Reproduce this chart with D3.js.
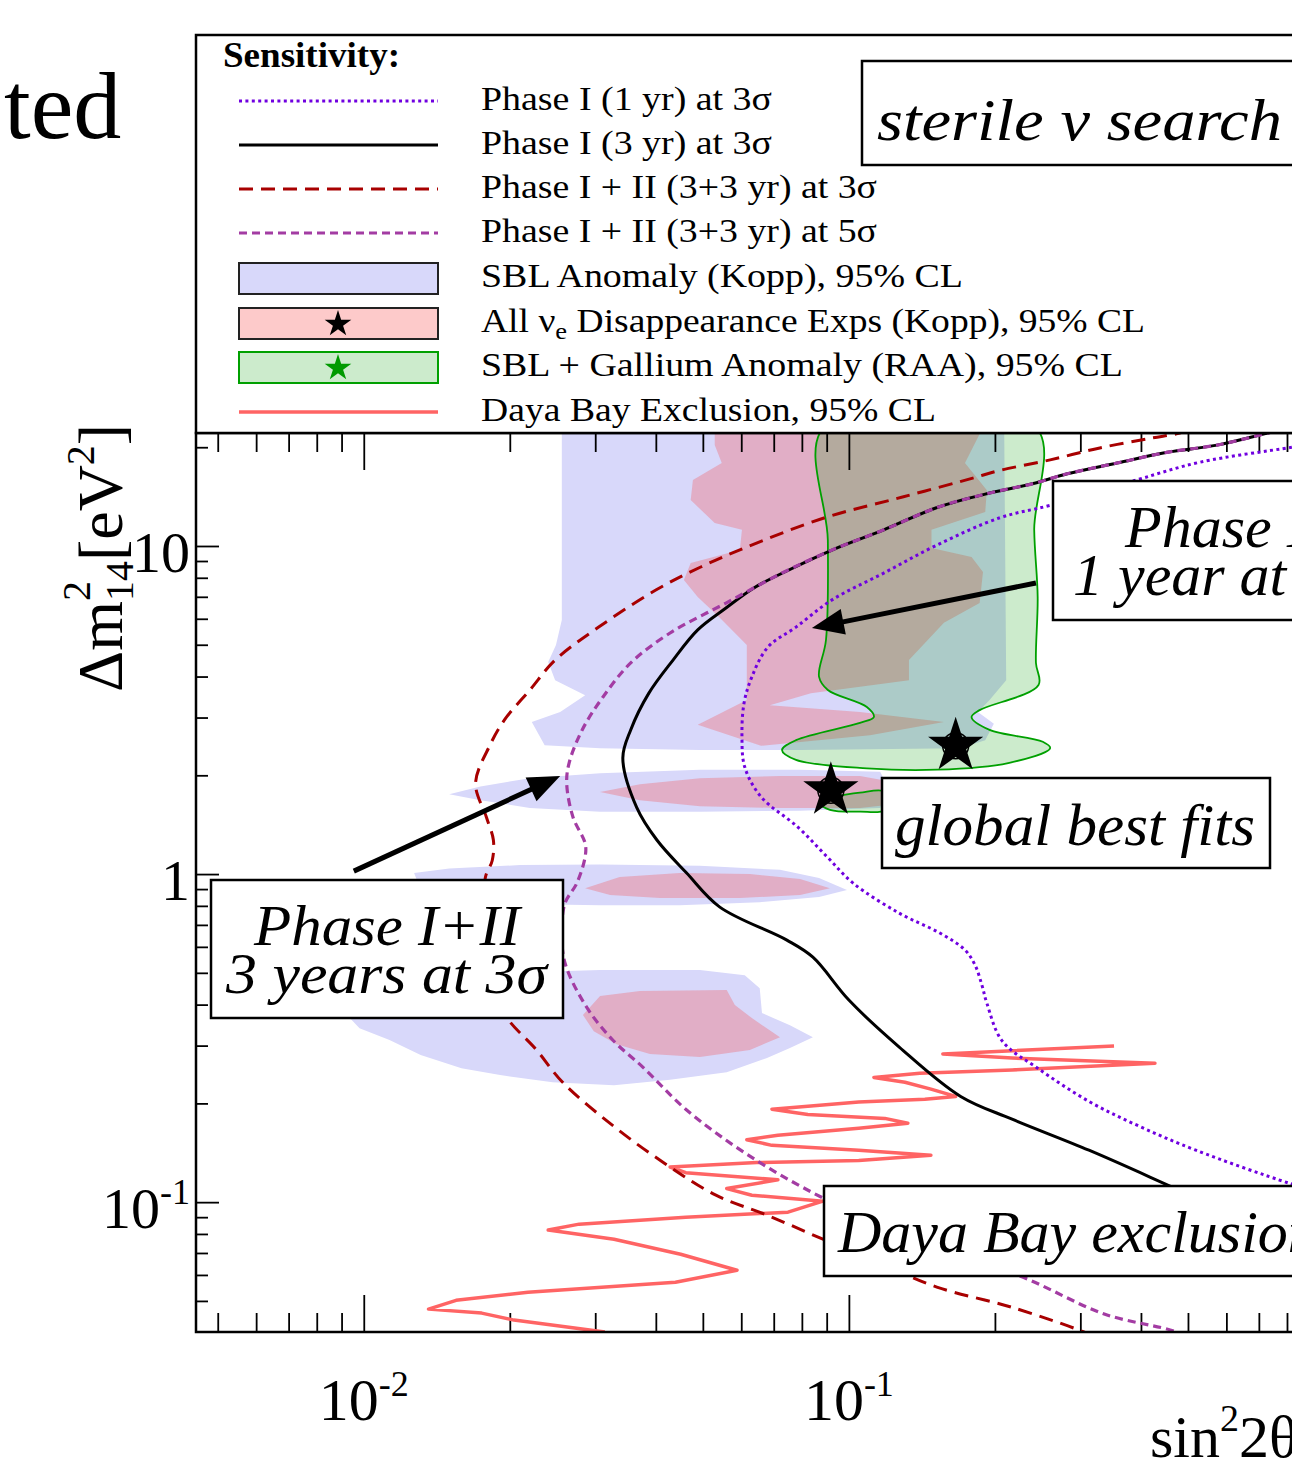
<!DOCTYPE html>
<html>
<head>
<meta charset="utf-8">
<script src="https://cdn.jsdelivr.net/npm/d3@7"></script>
<style>
  body { margin: 0; background: #fff; }
  svg { display: block; }
  text { font-family: "Liberation Serif", "Times New Roman", serif; fill: #000; }
</style>
</head>
<body>
<svg id="chart" width="1292" height="1460"></svg>
<script>
// ---------- axis ticks ----------
const xMajorTicks = [0.01, 0.1, 1];
const xMinorTicks = [0.005, 0.006, 0.007, 0.008, 0.009, 0.02, 0.03, 0.04, 0.05, 0.06, 0.07, 0.08, 0.09,
                     0.2, 0.3, 0.4, 0.5, 0.6, 0.7, 0.8, 0.9];
const yMajorTicks = [0.1, 1, 10];
const yMinorTicks = [0.05, 0.06, 0.07, 0.08, 0.09, 0.2, 0.3, 0.4, 0.5, 0.6, 0.7, 0.8, 0.9,
                     2, 3, 4, 5, 6, 7, 8, 9, 20];
const xTickLabels = [{ v: 0.01, base: "10", sup: "-2" }, { v: 0.1, base: "10", sup: "-1" }];
const yTickLabels = [{ v: 10, base: "10", sup: "" }, { v: 1, base: "1", sup: "" }, { v: 0.1, base: "10", sup: "-1" }];

// ---------- sensitivity curves [sin^2 2θ, Δm^2] ----------
const phaseI_1yr_3sigma = [[0.98,20.9],[0.819,20.0],[0.529,18.0],[0.392,15.9],[0.260,13.3],[0.205,12.2],
  [0.152,10.07],[0.118,8.27],[0.0923,6.85],[0.0778,5.66],[0.0681,4.92],[0.0631,3.99],[0.0608,3.32],
  [0.0602,2.62],[0.0610,2.12],[0.0659,1.72],[0.0785,1.39],[0.0901,1.13],[0.102,0.939],[0.127,0.760],
  [0.154,0.661],[0.1735,0.587],[0.182,0.528],[0.188,0.459],[0.1925,0.404],[0.207,0.310],[0.245,0.256],
  [0.314,0.202],[0.398,0.170],[0.519,0.144],[0.811,0.114],[0.98,0.105]];

const phaseI_3yr_3sigma = [[0.80,22.8],[0.731,22.1],[0.574,20.3],[0.453,19.3],[0.357,17.9],[0.282,16.6],
  [0.240,15.5],[0.195,14.5],[0.152,13.1],[0.118,11.2],[0.0923,9.72],[0.0752,8.45],[0.0637,7.45],
  [0.0558,6.47],[0.0488,5.55],[0.0434,4.49],[0.0387,3.56],[0.0355,2.75],[0.0342,2.26],[0.0365,1.60],
  [0.0402,1.27],[0.0463,1.007],[0.0542,0.793],[0.0745,0.629],[0.0843,0.558],[0.100,0.413],[0.127,0.297],
  [0.170,0.210],[0.217,0.179],[0.3125,0.144],[0.459,0.112],[0.811,0.0766]];

const phaseI_II_3sigma = [[0.50,22.6],[0.481,22.1],[0.418,21.3],[0.329,19.9],[0.260,18.3],[0.205,17.0],
  [0.180,16.1],[0.129,14.1],[0.0893,12.2],[0.0616,9.93],[0.0495,8.63],[0.0400,7.34],[0.0305,5.66],
  [0.0248,4.49],[0.0220,3.64],[0.0195,2.95],[0.0182,2.47],[0.0170,1.89],[0.0179,1.49],[0.0185,1.27],
  [0.0184,1.10],[0.0178,0.972],[0.0180,0.629],[0.0186,0.443],[0.0197,0.366],[0.0227,0.291],
  [0.0257,0.232],[0.0328,0.170],[0.0418,0.131],[0.0532,0.105],[0.0678,0.0913],[0.0884,0.0771],
  [0.116,0.0652],[0.1518,0.0551],[0.217,0.0478],[0.305,0.0402],[0.33,0.038]];

const phaseI_II_5sigma = [[0.80,22.8],[0.731,22.1],[0.574,20.3],[0.453,19.3],[0.357,17.9],[0.282,16.6],
  [0.240,15.5],[0.195,14.5],[0.152,13.1],[0.118,11.2],[0.0923,9.72],[0.0728,8.27],[0.0558,6.70],
  [0.0428,5.43],[0.0355,4.40],[0.0311,3.46],[0.0282,2.75],[0.0265,2.18],[0.0262,1.89],[0.0270,1.49],
  [0.0286,1.24],[0.0286,1.13],[0.0275,0.939],[0.0260,0.816],[0.0256,0.675],[0.0260,0.535],
  [0.0288,0.393],[0.0326,0.312],[0.0376,0.258],[0.0461,0.192],[0.0616,0.140],[0.0884,0.103],
  [0.147,0.0739],[0.228,0.0591],[0.336,0.0456],[0.472,0.0402],[0.50,0.038]];

const dayaBayExclusion = [[0.352,0.299],[0.1562,0.283],[0.217,0.275],[0.4275,0.265],[0.217,0.253],
  [0.140,0.247],[0.1126,0.240],[0.1305,0.232],[0.1476,0.221],[0.166,0.210],[0.1434,0.206],[0.1048,0.202],
  [0.0694,0.192],[0.0823,0.185],[0.1186,0.180],[0.1323,0.174],[0.1048,0.168],[0.0714,0.160],
  [0.0616,0.155],[0.0694,0.149],[0.1048,0.144],[0.1476,0.139],[0.1048,0.134],[0.0646,0.132],
  [0.0428,0.128],[0.0461,0.123],[0.0714,0.117],[0.0560,0.110],[0.0631,0.105],[0.0884,0.1007],
  [0.0749,0.0932],[0.0461,0.0900],[0.0278,0.0857],[0.0240,0.0822],[0.0328,0.0771],[0.0450,0.0694],
  [0.0588,0.0620],[0.0439,0.0570],[0.0218,0.0531],[0.0155,0.0502],[0.0136,0.0472],[0.0175,0.0459],
  [0.0204,0.0437],[0.0314,0.0402]];

// ---------- allowed regions ----------
const sblKopp = [
  [[0.0256,23],[0.209,23],[0.211,3.90],[0.195,3.39],[0.1845,3.12],[0.199,2.87],[0.191,2.56],[0.169,2.42],
   [0.0793,2.39],[0.0493,2.39],[0.0307,2.42],[0.0236,2.47],[0.0222,2.91],[0.0254,3.12],[0.0286,3.51],
   [0.0248,3.90],[0.0240,4.43],[0.0249,4.99],[0.0256,5.95]],
  [[0.0150,1.75],[0.0174,1.85],[0.0220,1.96],[0.0307,2.03],[0.0493,2.08],[0.0793,2.08],[0.116,2.05],
   [0.1215,1.80],[0.116,1.59],[0.0793,1.56],[0.0493,1.55],[0.0307,1.55],[0.0220,1.59],[0.0174,1.68]],
  [[0.0127,1.007],[0.0150,1.04],[0.0210,1.065],[0.0307,1.07],[0.0493,1.06],[0.0721,1.03],[0.0868,0.972],
   [0.0991,0.894],[0.0868,0.851],[0.0655,0.821],[0.0448,0.804],[0.0307,0.804],[0.0210,0.810],
   [0.0150,0.833],[0.0131,0.894]],
  [[0.00936,0.364],[0.0119,0.459],[0.0165,0.492],[0.0223,0.503],[0.0307,0.510],[0.0493,0.510],
   [0.0610,0.492],[0.0655,0.449],[0.0662,0.377],[0.0756,0.346],[0.0843,0.318],[0.0756,0.295],
   [0.0678,0.275],[0.0560,0.249],[0.0428,0.236],[0.0328,0.227],[0.0245,0.232],[0.0191,0.244],
   [0.0159,0.256],[0.0131,0.281],[0.0113,0.312],[0.0098,0.339]]
];

const nueDisappearanceKopp = [
  [[0.0529,23],[0.189,23],[0.1735,17.9],[0.1925,14.8],[0.191,12.7],[0.148,11.2],[0.148,9.86],[0.179,9.26],
   [0.189,8.33],[0.186,6.70],[0.157,5.83],[0.133,4.49],[0.133,3.90],[0.0835,3.56],[0.0687,3.27],
   [0.1054,3.12],[0.157,2.91],[0.1105,2.65],[0.0659,2.46],[0.0488,2.85],[0.0616,3.39],[0.0616,4.99],
   [0.0540,6.07],[0.0488,6.99],[0.0457,7.88],[0.0472,8.88],[0.0596,9.72],[0.0602,11.2],[0.0529,11.75],
   [0.0472,13.8],[0.0477,15.9],[0.0547,17.9],[0.0529,20.3]],
  [[0.0307,1.78],[0.0371,1.88],[0.0493,1.96],[0.0721,1.99],[0.1054,1.99],[0.1186,1.93],[0.1186,1.62],
   [0.1054,1.59],[0.0721,1.59],[0.0493,1.61],[0.0371,1.68]],
  [[0.0286,0.906],[0.0337,0.979],[0.0448,1.007],[0.0625,1.0],[0.0793,0.966],[0.0914,0.906],[0.0793,0.863],
   [0.0596,0.845],[0.0408,0.845],[0.0322,0.863]],
  [[0.0283,0.372],[0.0307,0.425],[0.0371,0.440],[0.0560,0.443],[0.0582,0.399],[0.0631,0.364],
   [0.0721,0.318],[0.0625,0.291],[0.0493,0.277],[0.0389,0.283],[0.0332,0.303],[0.0298,0.332]]
];

const sblGalliumRAA = [
  [[0.0888,23],[0.0905,10.4],[0.0897,5.17],[0.0868,3.99],[0.0905,3.64],[0.1089,3.23],[0.1126,3.01],
   [0.1054,2.89],[0.0778,2.56],[0.0728,2.39],[0.0778,2.23],[0.1089,2.10],[0.152,2.08],[0.213,2.18],
   [0.260,2.42],[0.251,2.53],[0.195,2.75],[0.179,3.01],[0.186,3.16],[0.246,3.77],[0.243,4.40],
   [0.245,6.99],[0.241,11.2],[0.243,23]],
  [[0.0868,1.65],[0.0940,1.72],[0.1054,1.77],[0.1186,1.78],[0.1186,1.57],[0.1054,1.55],[0.0914,1.57]]
];

const bestFits = [[0.166, 2.46], [0.0918, 1.80]];

// ---------- legend ----------
const legendTitle = "Sensitivity:";
const legendLabels = ["Phase I (1 yr) at 3σ", "Phase I (3 yr) at 3σ", "Phase I + II (3+3 yr) at 3σ",
  "Phase I + II (3+3 yr) at 5σ", "SBL Anomaly (Kopp), 95% CL", "All ν_e Disappearance Exps (Kopp), 95% CL",
  "SBL + Gallium Anomaly (RAA), 95% CL", "Daya Bay Exclusion, 95% CL"];
const legendKinds = ["dotted", "solid", "dashRed", "dashPurple", "blue", "pink", "green", "daya"];

// ---------- styles ----------
const C = {
  blue: "#d8d8fa",
  pink: "rgba(248,66,66,0.28)",
  green: "rgba(0,156,0,0.2)",
  greenLine: "#00a000",
  violet: "#7000e0",
  purple: "#a33ca3",
  darkRed: "#a80000",
  daya: "#ff6464"
};
const lineStyle = {
  dotted: { stroke: C.violet, width: 3, dash: "3,3.4" },
  solid: { stroke: "#000", width: 3, dash: null },
  dashRed: { stroke: C.darkRed, width: 3, dash: "14,8" },
  dashPurple: { stroke: C.purple, width: 3.2, dash: "8,5" },
  daya: { stroke: C.daya, width: 3.5, dash: null }
};

// ---------- layout ----------
const svg = d3.select("#chart");
const plot = { left: 196, top: 433, right: 1334, bottom: 1332 };
const x = d3.scaleLog().domain([0.00451, 1.0]).range([plot.left, plot.right]);
const y = d3.scaleLog().domain([0.0402, 22.1]).range([plot.bottom, plot.top]);

svg.append("defs").append("clipPath").attr("id", "plotClip")
  .append("rect").attr("x", plot.left).attr("y", plot.top)
  .attr("width", plot.right - plot.left).attr("height", plot.bottom - plot.top);

const regionLayer = svg.append("g").attr("clip-path", "url(#plotClip)");

const area = d3.line().x(d => x(d[0])).y(d => y(d[1])).curve(d3.curveLinearClosed);
const smoothArea = d3.line().x(d => x(d[0])).y(d => y(d[1])).curve(d3.curveCatmullRomClosed.alpha(0.5));
const curve = d3.line().x(d => x(d[0])).y(d => y(d[1])).curve(d3.curveCatmullRom.alpha(0.5));
const jagged = d3.line().x(d => x(d[0])).y(d => y(d[1]));

// allowed regions
regionLayer.selectAll("path.sbl").data(sblKopp).join("path").attr("class", "sbl")
  .attr("d", area).attr("fill", C.blue);
regionLayer.selectAll("path.nue").data(nueDisappearanceKopp).join("path").attr("class", "nue")
  .attr("d", area).attr("fill", C.pink);
regionLayer.selectAll("path.raa").data(sblGalliumRAA).join("path").attr("class", "raa")
  .attr("d", smoothArea).attr("fill", C.green).attr("stroke", C.greenLine).attr("stroke-width", 1.8);

// axis ticks (inside the frame)
function tickAxis(axis, values, size, transform) {
  svg.append("g").attr("transform", transform)
    .call(axis.tickValues(values).tickSize(size).tickSizeOuter(0).tickFormat(""))
    .call(g => g.select(".domain").remove())
    .call(g => g.selectAll(".tick line").attr("stroke", "#000").attr("stroke-width", 1.8));
}
tickAxis(d3.axisBottom(x), xMajorTicks, -37, `translate(0,${plot.bottom})`);
tickAxis(d3.axisBottom(x), xMinorTicks, -19, `translate(0,${plot.bottom})`);
tickAxis(d3.axisTop(x), xMajorTicks, -37, `translate(0,${plot.top})`);
tickAxis(d3.axisTop(x), xMinorTicks, -19, `translate(0,${plot.top})`);
tickAxis(d3.axisLeft(y), yMajorTicks, -23, `translate(${plot.left},0)`);
tickAxis(d3.axisLeft(y), yMinorTicks, -12, `translate(${plot.left},0)`);
tickAxis(d3.axisRight(y), yMajorTicks, -23, `translate(${plot.right},0)`);
tickAxis(d3.axisRight(y), yMinorTicks, -12, `translate(${plot.right},0)`);

const curveLayer = svg.append("g").attr("clip-path", "url(#plotClip)");

// Daya Bay exclusion
curveLayer.append("path").attr("d", jagged(dayaBayExclusion)).attr("fill", "none")
  .attr("stroke", C.daya).attr("stroke-width", 3.5).attr("stroke-linejoin", "round");

// sensitivity curves
function drawCurve(data, st) {
  curveLayer.append("path").attr("d", curve(data)).attr("fill", "none")
    .attr("stroke", st.stroke).attr("stroke-width", st.width)
    .attr("stroke-dasharray", st.dash);
}
drawCurve(phaseI_1yr_3sigma, lineStyle.dotted);
drawCurve(phaseI_II_3sigma, lineStyle.dashRed);
drawCurve(phaseI_3yr_3sigma, lineStyle.solid);
drawCurve(phaseI_II_5sigma, lineStyle.dashPurple);

// best-fit points
const starPath = r => d3.symbol(d3.symbolStar, r * r / 0.8908130915292852)();
curveLayer.selectAll("circle.bf").data(bestFits).join("circle").attr("class", "bf")
  .attr("cx", d => x(d[0])).attr("cy", d => y(d[1])).attr("r", 13)
  .attr("fill", "none").attr("stroke", "#000").attr("stroke-width", 1.5);
curveLayer.selectAll("path.bf").data(bestFits).join("path").attr("class", "bf")
  .attr("transform", d => `translate(${x(d[0])},${y(d[1])})`)
  .attr("d", starPath(29)).attr("fill", "#000");

// annotation boxes
function boxedText(rect, lines, size) {
  const g = svg.append("g");
  g.append("rect").attr("x", rect[0]).attr("y", rect[1]).attr("width", rect[2]).attr("height", rect[3])
    .attr("fill", "#fff").attr("stroke", "#000").attr("stroke-width", 2.5);
  lines.forEach(l => {
    const t = g.append("text").attr("x", l.x).attr("y", l.y).attr("font-size", size)
      .attr("font-style", "italic").text(l.t);
    if (l.w) t.attr("textLength", l.w).attr("lengthAdjust", "spacingAndGlyphs");
  });
}
boxedText([1053, 481, 400, 139], [{ t: "Phase I", x: 1125, y: 547 }, { t: "1 year at 3σ", x: 1073, y: 595 }], 60);
boxedText([882, 778, 388, 90], [{ t: "global best fits", x: 895, y: 845, w: 360 }], 60);
boxedText([211, 880, 352, 138], [{ t: "Phase I+II", x: 254, y: 945, w: 266 }, { t: "3 years at 3σ", x: 226, y: 993, w: 321 }], 58);
boxedText([824, 1186, 560, 90], [{ t: "Daya Bay exclusion", x: 838, y: 1252 }], 60);

// arrows
const arrows = [{ from: [0.243, 7.71], to: [0.0839, 5.62] }, { from: [0.00954, 1.021], to: [0.0254, 1.99] }];
arrows.forEach(a => {
  const x0 = x(a.from[0]), y0 = y(a.from[1]), x1 = x(a.to[0]), y1 = y(a.to[1]);
  const len = Math.hypot(x1 - x0, y1 - y0), ux = (x1 - x0) / len, uy = (y1 - y0) / len;
  const hl = 32, hw = 13, bx = x1 - ux * hl, by = y1 - uy * hl;
  svg.append("line").attr("x1", x0).attr("y1", y0).attr("x2", bx + ux * 4).attr("y2", by + uy * 4)
    .attr("stroke", "#000").attr("stroke-width", 5);
  svg.append("path").attr("d", `M${x1},${y1}L${bx - uy * hw},${by + ux * hw}L${bx + uy * hw},${by - ux * hw}Z`)
    .attr("fill", "#000");
});

// frame
svg.append("rect").attr("x", plot.left).attr("y", plot.top)
  .attr("width", plot.right - plot.left).attr("height", plot.bottom - plot.top)
  .attr("fill", "none").attr("stroke", "#000").attr("stroke-width", 2.5);

// tick labels
const xl = svg.append("g").attr("font-size", 60).attr("text-anchor", "middle");
xTickLabels.forEach(d => {
  const t = xl.append("text").attr("x", x(d.v)).attr("y", 1420);
  t.append("tspan").text(d.base);
  t.append("tspan").attr("font-size", 36).attr("dy", -24).text(d.sup);
});
const yl = svg.append("g").attr("font-size", 58).attr("text-anchor", "end");
yTickLabels.forEach(d => {
  const t = yl.append("text").attr("x", 190).attr("y", y(d.v) + 26);
  t.append("tspan").text(d.base);
  if (d.sup) t.append("tspan").attr("font-size", 36).attr("dy", -24).text(d.sup);
});

// axis titles
const xt = svg.append("text").attr("x", 1150).attr("y", 1457).attr("font-size", 60);
xt.append("tspan").text("sin");
xt.append("tspan").attr("font-size", 38).attr("dy", -26).text("2");
xt.append("tspan").attr("dy", 26).text("2θ");

const yt = svg.append("text").attr("transform", "translate(122,692) rotate(-90)").attr("font-size", 64);
yt.append("tspan").text("Δm");
yt.append("tspan").attr("font-size", 40).attr("dy", -32).text("2");
yt.append("tspan").attr("font-size", 40).attr("dx", -20).attr("dy", 43).text("14");
yt.append("tspan").attr("dy", -11).text("[eV");
yt.append("tspan").attr("font-size", 40).attr("dy", -28).text("2");
yt.append("tspan").attr("dy", 28).text("]");

// legend
const legend = svg.append("g");
legend.append("rect").attr("x", 196).attr("y", 35).attr("width", 1200).attr("height", 398)
  .attr("fill", "#fff").attr("stroke", "#000").attr("stroke-width", 2.5);
legend.append("text").attr("x", 223).attr("y", 67).attr("font-size", 35).attr("font-weight", "bold")
  .attr("textLength", 177).attr("lengthAdjust", "spacingAndGlyphs").text(legendTitle);

const legendRowY = [101, 145, 189, 233, 278, 323, 367, 412];
const legendTextW = [291, 291, 396, 396, 482, 664, 642, 455];
legendKinds.forEach((k, i) => {
  const cy = legendRowY[i];
  if (lineStyle[k]) {
    const st = lineStyle[k];
    legend.append("line").attr("x1", 239).attr("x2", 438).attr("y1", cy).attr("y2", cy)
      .attr("stroke", st.stroke).attr("stroke-width", st.width).attr("stroke-dasharray", st.dash);
  } else {
    const fill = k === "blue" ? C.blue : k === "pink" ? C.pink : C.green;
    const stroke = k === "green" ? C.greenLine : "#222";
    legend.append("rect").attr("x", 239).attr("y", cy - 15).attr("width", 199).attr("height", 31)
      .attr("fill", fill).attr("stroke", stroke).attr("stroke-width", 2);
    if (k !== "blue") {
      legend.append("path").attr("transform", `translate(338,${cy + 1})`)
        .attr("d", starPath(14)).attr("fill", k === "green" ? "#009a00" : "#000");
    }
  }
  const parts = legendLabels[i].split("_e");
  const t = legend.append("text").attr("x", 481).attr("y", cy + 9).attr("font-size", 34)
    .attr("textLength", legendTextW[i]).attr("lengthAdjust", "spacingAndGlyphs");
  t.append("tspan").text(parts[0]);
  if (parts.length > 1) {
    t.append("tspan").attr("font-size", 24).attr("dy", 7).text("e");
    t.append("tspan").attr("dy", -7).text(parts[1]);
  }
});

// title box
svg.append("rect").attr("x", 862).attr("y", 61).attr("width", 480).attr("height", 104)
  .attr("fill", "#fff").attr("stroke", "#000").attr("stroke-width", 2.5);
svg.append("text").attr("x", 877).attr("y", 140).attr("font-size", 60).attr("font-style", "italic")
  .attr("textLength", 405).attr("lengthAdjust", "spacingAndGlyphs").text("sterile ν search");

svg.append("text").attr("x", 4).attr("y", 138).attr("font-size", 96).text("ted");
</script>
</body>
</html>
